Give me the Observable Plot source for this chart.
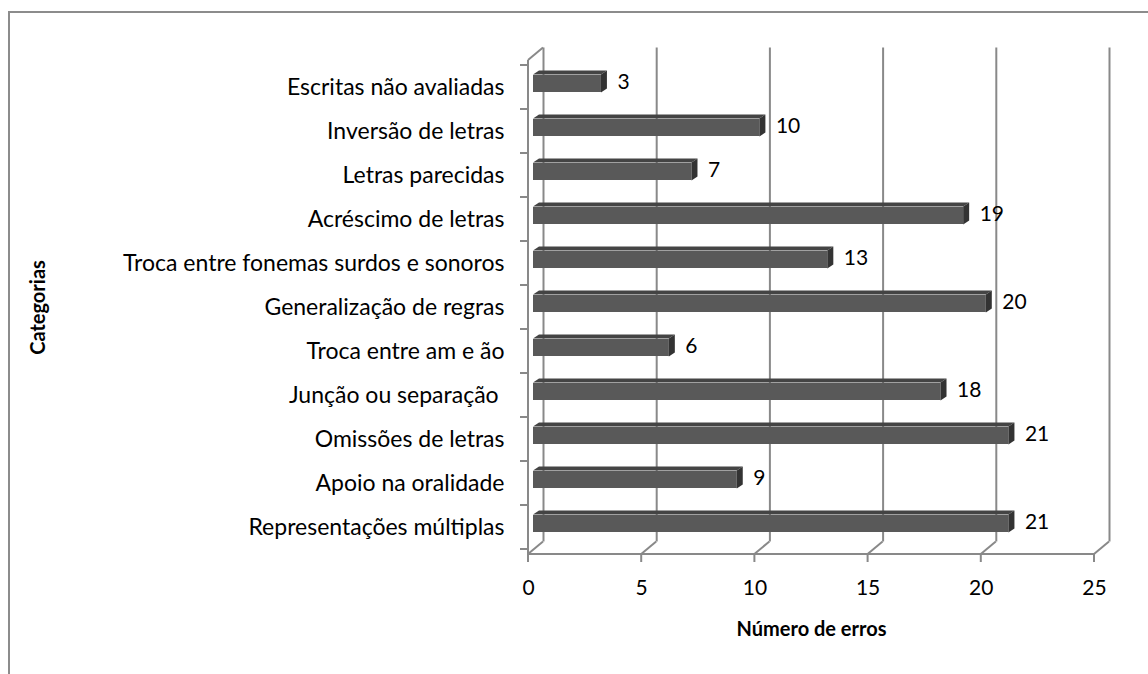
<!DOCTYPE html>
<html>
<head>
<meta charset="utf-8">
<script src="https://cdn.jsdelivr.net/npm/d3@7"></script>
<script src="https://cdn.jsdelivr.net/npm/@observablehq/plot@0.6"></script>
<style>
  html, body { margin: 0; padding: 0; background: #fff; }
  #wrap { position: relative; width: 1148px; height: 674px; overflow: hidden; }
  #border { position: absolute; left: 8px; top: 11px; width: 1200px; height: 800px;
            border-left: 2px solid #8c8c8c; border-top: 2px solid #8c8c8c; pointer-events: none; }
  svg { font-family: Lato, "Open Sans", sans-serif; }
</style>
</head>
<body>
<div id="wrap"><div id="border"></div></div>
<script>
const categories = [
  "Escritas não avaliadas",
  "Inversão de letras",
  "Letras parecidas",
  "Acréscimo de letras",
  "Troca entre fonemas surdos e sonoros",
  "Generalização de regras",
  "Troca entre am e ão",
  "Junção ou separação ",
  "Omissões de letras",
  "Apoio na oralidade",
  "Representações múltiplas"
];
const values = [3, 10, 7, 19, 13, 20, 6, 18, 21, 9, 21];
const xTicks = [0, 5, 10, 15, 20, 25];
const xTitle = "Número de erros";
const yTitle = "Categorias";

const data = categories.map((c, i) => ({category: c, value: values[i]}));

const GRID = "#898989";
const DEPTH_X = 15, DEPTH_Y = 12.5;
const BAR_DX = 5;
const BAR_TOP = 12.5, BAR_BOT = 5.5;
const BAR_DEPTH_X = 6, BAR_DEPTH_Y = 4;

function frame3d(index, scales, channels, dimensions) {
  const {x, y} = scales;
  const {marginTop, marginBottom, height} = dimensions;
  const g = d3.create("svg:g").attr("stroke", GRID).attr("stroke-width", 2).attr("fill", "none");
  const x0 = x(0), x1 = x(25);
  const yTop = marginTop, yBot = height - marginBottom;
  g.append("line").attr("x1", x0).attr("x2", x0).attr("y1", yTop).attr("y2", yBot);
  g.append("line").attr("x1", x0).attr("y1", yTop).attr("x2", x0 + DEPTH_X).attr("y2", yTop - DEPTH_Y);
  const bw = y.bandwidth ? y.bandwidth() : (yBot - yTop) / categories.length;
  const bounds = categories.map(c => y(c)).concat([y(categories[categories.length - 1]) + bw]);
  for (const b of bounds) {
    g.append("line").attr("x1", x0 - 8).attr("x2", x0).attr("y1", b).attr("y2", b);
  }
  g.append("line").attr("x1", x0).attr("x2", x1).attr("y1", yBot).attr("y2", yBot);
  for (const t of xTicks) {
    const px = x(t);
    g.append("line").attr("x1", px).attr("x2", px).attr("y1", yBot).attr("y2", yBot + 8);
    g.append("line").attr("x1", px).attr("y1", yBot).attr("x2", px + DEPTH_X).attr("y2", yBot - DEPTH_Y);
  }
  return g.node();
}

function bar3d(index, scales, channels, dimensions) {
  const {x, y} = scales;
  const bw = y.bandwidth ? y.bandwidth() : 0;
  const g = d3.create("svg:g");
  for (const d of data) {
    const yc = y(d.category) + bw / 2;
    const a = x(0) + BAR_DX, b = x(d.value) + BAR_DX;
    const yt = yc - BAR_TOP, yb = yc + BAR_BOT;
    g.append("polygon")
      .attr("points", [[a, yt], [b, yt], [b + BAR_DEPTH_X, yt - BAR_DEPTH_Y], [a + BAR_DEPTH_X, yt - BAR_DEPTH_Y]].join(" "))
      .attr("fill", "#444444");
    g.append("polygon")
      .attr("points", [[b, yt], [b + BAR_DEPTH_X, yt - BAR_DEPTH_Y], [b + BAR_DEPTH_X, yb - BAR_DEPTH_Y], [b, yb]].join(" "))
      .attr("fill", "#333333");
  }
  return g.node();
}

const chart = Plot.plot({
  width: 1148,
  height: 674,
  marginLeft: 528,
  marginRight: 54,
  marginTop: 60,
  marginBottom: 120,
  style: {fontFamily: "Lato, 'Open Sans', sans-serif", fontSize: "21px", color: "#000", background: "transparent"},
  x: {domain: [0, 25]},
  y: {domain: categories, padding: 0},
  marks: [
    Plot.ruleX(xTicks, {dx: DEPTH_X, dy: -DEPTH_Y, stroke: GRID, strokeWidth: 2}),
    frame3d,
    Plot.barX(data, {x1: 0, x2: "value", y: "category", dx: BAR_DX, insetTop: 10, insetBottom: 17, fill: "#595959"}),
    bar3d,
    Plot.text(data, {x: "value", y: "category", text: d => String(d.value), dx: BAR_DX + BAR_DEPTH_X + 10, dy: -5, textAnchor: "start", fontSize: 21, fill: "#000"}),
    Plot.axisX(xTicks, {tickSize: 0, tickPadding: 26, fontSize: 21, label: null, fill: "#000"}),
    Plot.axisY({tickSize: 0, tickPadding: 24, fontSize: 23, label: null, fill: "#000"}),
    Plot.text([xTitle], {frameAnchor: "bottom", dy: 81, fontSize: 20, fontWeight: "bold", fill: "#000"}),
    Plot.text([yTitle], {frameAnchor: "left", textAnchor: "middle", dx: -490, rotate: -90, fontSize: 20, fontWeight: "bold", fill: "#000"})
  ]
});
document.getElementById("wrap").insertBefore(chart, document.getElementById("border"));
</script>
</body>
</html>
